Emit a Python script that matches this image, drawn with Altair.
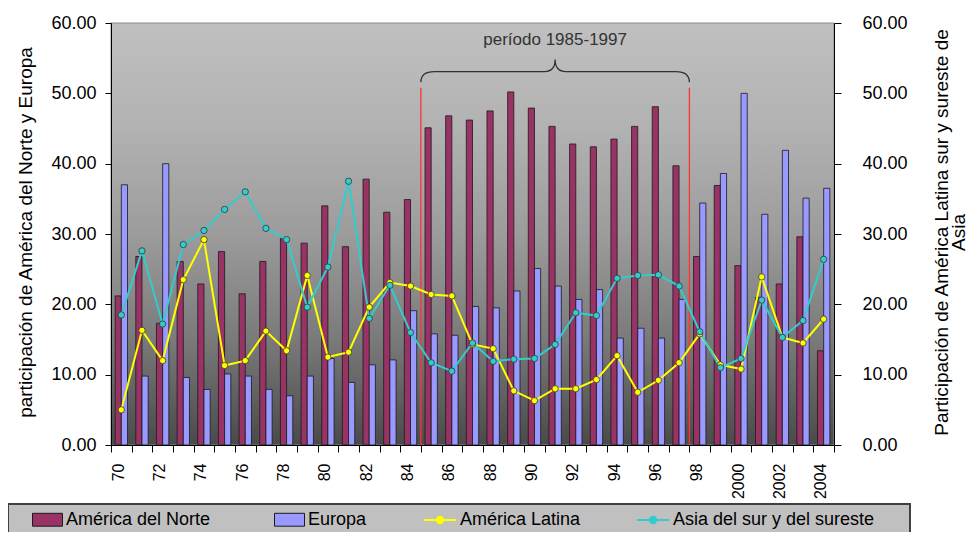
import altair as alt
import pandas as pd

# ---------------- data ----------------
anios = list(range(1970, 2005))

america_norte = [21.2, 26.8, 17.3, 26.1, 22.9, 27.5, 21.5, 26.1, 29.4, 28.7,
                 34.0, 28.2, 37.8, 33.1, 34.9, 45.1, 46.8, 46.2, 47.5, 50.2,
                 47.9, 45.3, 42.8, 42.4, 43.5, 45.3, 48.1, 39.7, 26.8, 36.9,
                 25.5, 21.0, 22.9, 29.6, 13.4]
europa = [37.0, 9.8, 40.0, 9.6, 7.9, 10.1, 9.8, 7.9, 7.0, 9.8,
          12.3, 8.9, 11.4, 12.1, 19.1, 15.8, 15.6, 19.7, 19.5, 21.9,
          25.1, 22.6, 20.7, 22.1, 15.2, 16.6, 15.2, 20.7, 34.4, 38.6,
          50.0, 32.8, 41.9, 35.1, 36.5]
america_latina = [5.0, 16.3, 12.0, 23.5, 29.2, 11.3, 12.0, 16.2, 13.4, 24.1,
                  12.5, 13.2, 19.6, 23.1, 22.6, 21.4, 21.2, 14.3, 13.7, 7.7,
                  6.3, 8.0, 8.0, 9.3, 12.7, 7.5, 9.2, 11.7, 15.8, 11.4,
                  10.8, 23.9, 15.3, 14.5, 17.9]
asia = [18.5, 27.6, 17.2, 28.5, 30.5, 33.5, 36.0, 30.8, 29.2, 19.6,
        25.3, 37.5, 18.0, 22.7, 16.0, 11.7, 10.5, 14.5, 11.9, 12.2,
        12.3, 14.3, 18.8, 18.4, 23.7, 24.1, 24.2, 22.6, 16.1, 11.0,
        12.3, 20.6, 15.3, 17.7, 26.4]

series_barras = ["América del Norte", "Europa"]
series_lineas = ["América Latina", "Asia del sur y del sureste"]
colores_barras = ["#993366", "#9999ff"]
colores_lineas = ["#ffff00", "#33cccc"]

y_ticks = [0, 10, 20, 30, 40, 50, 60]
periodo_inicio, periodo_fin = 1985, 1997
periodo_texto = "período 1985-1997"
titulo_izq = "participación de América del Norte y Europa"
titulo_der = ["Participación de América Latina  sur y sureste de", "Asia"]

# ---------------- tables ----------------
df_barras = pd.DataFrame({
    "anio": anios * 2,
    "serie": [series_barras[0]] * len(anios) + [series_barras[1]] * len(anios),
    "valor": america_norte + europa,
})
df_lineas = pd.DataFrame({
    "anio": anios * 2,
    "serie": [series_lineas[0]] * len(anios) + [series_lineas[1]] * len(anios),
    "valor": america_latina + asia,
})
df_uno = pd.DataFrame({"k": [0]})
df_periodo = pd.DataFrame({"inicio": [periodo_inicio], "fin": [periodo_fin],
                           "centro": [(periodo_inicio + periodo_fin) // 2]})

W, H = 723, 422
FONT = "Liberation Sans"
n_per = periodo_fin - periodo_inicio + 1
band = W / len(anios)

y_scale = alt.Scale(domain=[0, 60], nice=False, zero=True)
x_scale = alt.Scale(paddingInner=0, paddingOuter=0)

gradient = {
    "gradient": "linear", "x1": 0, "y1": 0, "x2": 0, "y2": 1,
    "stops": [
        {"offset": 0.0, "color": "#c0c0c0"},
        {"offset": 0.25, "color": "#b2b2b2"},
        {"offset": 0.5, "color": "#9c9c9c"},
        {"offset": 0.75, "color": "#7a7a7a"},
        {"offset": 1.0, "color": "#4a4a4a"},
    ],
}

x_axis = alt.Axis(
    title=None, tickBand="extent", labelAngle=270, labelFont=FONT, labelFontSize=16,
    labelColor="#000", labelPadding=11, labelOffset=-3, tickSize=7, tickColor="#000",
    domainColor="#000", labelOverlap=False, zindex=1,
    labelExpr="datum.value % 2 == 0 ? (datum.value < 2000 ? toString(datum.value - 1900) : toString(datum.value)) : ''",
)

left_axis = alt.Axis(
    orient="left", title=titulo_izq, values=y_ticks, format=".2f", grid=False,
    tickSize=6, tickColor="#000", domainColor="#000", labelPadding=9,
    labelFont=FONT, labelFontSize=18, labelColor="#000",
    titleFont=FONT, titleFontSize=19, titleFontWeight="normal", titleColor="#000",
    titleAngle=270, titleAlign="center", titleBaseline="middle",
    titleX=-86, titleY=209, zindex=1,
)
right_axis = alt.Axis(
    orient="right", title=titulo_der, values=y_ticks, format=".2f", grid=False,
    tickSize=7, tickColor="#000", domainColor="#000", labelPadding=21,
    labelFont=FONT, labelFontSize=18, labelColor="#000",
    titleFont=FONT, titleFontSize=19, titleFontWeight="normal", titleColor="#000",
    titleAngle=270, titleAlign="center", titleBaseline="middle", titleLineHeight=17,
    titleX=107, titleY=209, zindex=1,
)

RECT_SYM = "M-1,-0.43H1V0.43H-1Z"
LINE_SYM = ("M-1,0H-0.2M0.2,0H1M-0.2,0A0.2,0.2 0 1,0 0.2,0A0.2,0.2 0 1,0 -0.2,0")
BRACE = ("M-1,0.08Q-1,0 -0.9,0L-0.08,0Q0,0 0,-0.09Q0,0 0.08,0L0.9,0Q1,0 1,0.08")

legend_barras = alt.Legend(
    title=None, orient="none", legendX=-79, legendY=481, direction="horizontal",
    symbolType=RECT_SYM, symbolSize=900, symbolStrokeColor="#1a1a1a", symbolStrokeWidth=1,
    labelFont=FONT, labelFontSize=18, labelColor="#000", labelOffset=3, labelLimit=400,
    columnPadding=61, padding=0, zindex=1,
)
legend_lineas = alt.Legend(
    title=None, orient="none", legendX=312, legendY=480, direction="horizontal",
    symbolType=LINE_SYM, symbolSize=1024, symbolStrokeWidth=2,
    labelFont=FONT, labelFontSize=18, labelColor="#000", labelOffset=3, labelLimit=400,
    columnPadding=52, padding=0, zindex=1,
)

# ---------------- layers ----------------
fondo = alt.Chart(df_uno).mark_rect(fill=gradient, stroke="#8a8a8a", strokeWidth=1).encode(
    x=alt.value(0), x2=alt.value("width"), y=alt.value(0), y2=alt.value("height")
)

barras = alt.Chart(df_barras).mark_bar(stroke="#1a1a1a", strokeWidth=0.8).encode(
    x=alt.X("anio:O", scale=x_scale, axis=x_axis),
    xOffset=alt.XOffset("serie:N", sort=series_barras,
                        scale=alt.Scale(domain=series_barras, paddingInner=0, paddingOuter=0.67)),
    y=alt.Y("valor:Q", scale=y_scale, axis=left_axis),
    fill=alt.Fill("serie:N", sort=series_barras,
                  scale=alt.Scale(domain=series_barras, range=colores_barras),
                  legend=legend_barras),
)

regla_ini = alt.Chart(df_periodo).mark_rule(color="#ff3333", strokeWidth=1.3).encode(
    x=alt.X("inicio:O", bandPosition=0, axis=None),
    y=alt.Y(datum=50.8, scale=y_scale, axis=None),
    y2=alt.Y2(datum=0),
)
regla_fin = alt.Chart(df_periodo).mark_rule(color="#ff3333", strokeWidth=1.3).encode(
    x=alt.X("fin:O", bandPosition=1, axis=None),
    y=alt.Y(datum=50.8, scale=y_scale, axis=None),
    y2=alt.Y2(datum=0),
)

lineas = alt.Chart(df_lineas).mark_line(strokeWidth=2).encode(
    x=alt.X("anio:O", axis=None),
    y=alt.Y("valor:Q", scale=y_scale, axis=right_axis),
    stroke=alt.Stroke("serie:N", sort=series_lineas,
                      scale=alt.Scale(domain=series_lineas, range=colores_lineas),
                      legend=legend_lineas),
)

puntos = alt.Chart(df_lineas).mark_point(
    filled=True, size=40, stroke="#333333", strokeWidth=0.8, opacity=1, shape="circle"
).encode(
    x=alt.X("anio:O", axis=None),
    y=alt.Y("valor:Q", scale=y_scale, axis=None),
    color=alt.Color("serie:N", sort=series_lineas,
                    scale=alt.Scale(domain=series_lineas, range=colores_lineas),
                    legend=None),
)

llave = alt.Chart(df_periodo).mark_point(
    shape=BRACE, size=(n_per * band) ** 2, filled=False, stroke="#333333",
    strokeWidth=1.3, opacity=1,
).encode(
    x=alt.X("centro:O", axis=None),
    y=alt.Y(datum=53.1, scale=y_scale, axis=None),
)

texto = alt.Chart(df_periodo).mark_text(
    text=periodo_texto, font=FONT, fontSize=17, color="#333333",
    align="center", baseline="middle",
).encode(
    x=alt.X("centro:O", axis=None),
    y=alt.Y(datum=57.6, scale=y_scale, axis=None),
)

caja_leyenda = alt.Chart(df_uno).mark_rect(fill="#c0c0c0", stroke="#404040", strokeWidth=2).encode(
    x=alt.value(-103), x2=alt.value(799), y=alt.value(481), y2=alt.value(540)
)

chart = alt.layer(
    fondo, barras, regla_ini, regla_fin, lineas, puntos, llave, texto, caja_leyenda
).resolve_axis(x="independent", y="independent").properties(
    width=W, height=H,
    padding={"left": 103, "top": 15, "right": 136, "bottom": 87},
    autosize=alt.AutoSizeParams(type="none"),
).configure_view(stroke=None)

chart.save("out.html", embed_options={"renderer": "svg", "actions": False})
